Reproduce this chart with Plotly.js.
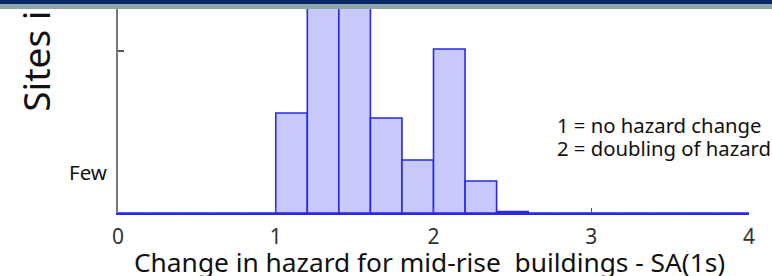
<!DOCTYPE html>
<html>
<head>
<meta charset="utf-8">
<script src="https://cdn.plot.ly/plotly-3.0.1.min.js"></script>
<style>
  html, body { margin: 0; padding: 0; background: #fff; overflow: hidden; }
  #wrap { position: relative; width: 772px; height: 276px; }
  #chart { width: 772px; height: 276px; }
  .band1 { position: absolute; left: 0; top: 0; width: 772px; height: 4px; background: #07276a; z-index: 10; }
  .band2 { position: absolute; left: 0; top: 4px; width: 772px; height: 5px; background: #8ea6a7; z-index: 10; }
</style>
</head>
<body>
<div id="wrap">
  <div id="chart"></div>
  <div class="band1"></div>
  <div class="band2"></div>
</div>
<script>
// Histogram bins (left edges) and relative counts (in arbitrary units)
const binLeft = [0.0, 0.2, 0.4, 0.6, 0.8, 1.0, 1.2, 1.4, 1.6, 1.8, 2.0, 2.2, 2.4, 2.6, 2.8, 3.0, 3.2, 3.4, 3.6, 3.8];
const counts  = [0,   0,   0,   0,   0,   100, 250, 245, 95,  53,  164, 32,  1.5, 0,   0,   0,   0,   0,   0,   0];
const binWidth = 0.2;
const xTickVals = [0, 1, 2, 3, 4];
const xTickText = ['0', '1', '2', '3', '4'];
const yTickVals = [162];
const yLabelFew = {value: 41, text: 'Few'};
const xTitle = 'Change in hazard for mid-rise\u00a0 buildings - SA(1s)';
const yTitle = 'Sites in study area';
const noteLines = ['1 = no hazard change', '2 = doubling of hazard'];
const noteY = [88, 65];

const FONT = 'Noto Sans, Open Sans, sans-serif';

const trace = {
  type: 'bar',
  x: binLeft.map(v => v + binWidth / 2),
  y: counts,
  width: binLeft.map(() => binWidth),
  marker: { color: 'rgb(200,200,250)', line: { color: 'rgb(40,40,230)', width: 1.6 } },
  hoverinfo: 'skip'
};

const annotations = [
  { xref: 'paper', yref: 'y', x: -0.014, y: yLabelFew.value, xanchor: 'right', yanchor: 'middle',
    text: yLabelFew.text, showarrow: false, font: { family: FONT, size: 20.5, color: '#111' } },
  { xref: 'paper', yref: 'y', x: -0.132, y: 99, xanchor: 'center', yanchor: 'bottom', textangle: -90,
    text: yTitle, showarrow: false, font: { family: FONT, size: 37, color: '#111' } },
  { xref: 'paper', yref: 'paper', x: 0.493, y: -0.232, xanchor: 'center', yanchor: 'middle',
    text: xTitle, showarrow: false, font: { family: FONT, size: 26.3, color: '#111' } }
];
noteLines.forEach((t, i) => annotations.push({
  xref: 'x', yref: 'y', x: 2.77, y: noteY[i], xanchor: 'left', yanchor: 'middle', align: 'left',
  text: t, showarrow: false, font: { family: FONT, size: 20.3, color: '#111' }
}));

const layout = {
  width: 772, height: 276,
  margin: { l: 118, r: 23, t: 0, b: 63 },
  paper_bgcolor: '#fff', plot_bgcolor: '#fff',
  showlegend: false,
  bargap: 0,
  xaxis: {
    range: [0, 4], tickvals: xTickVals, ticktext: xTickText,
    showgrid: false, zeroline: false,
    showline: true, linecolor: 'rgb(40,40,230)', linewidth: 1.6,
    ticks: 'inside', ticklen: 5, tickcolor: '#555', tickwidth: 1.2,
    tickfont: { family: FONT, size: 21, color: '#333' },
    ticklabelstandoff: 4
  },
  yaxis: {
    range: [0, 213], tickvals: yTickVals, ticktext: [''],
    showgrid: false, zeroline: false,
    showline: true, linecolor: '#777', linewidth: 1.6,
    ticks: 'inside', ticklen: 6, tickcolor: '#555', tickwidth: 1.2
  },
  annotations: annotations
};

Plotly.newPlot('chart', [trace], layout, { displayModeBar: false, staticPlot: true });
</script>
</body>
</html>
